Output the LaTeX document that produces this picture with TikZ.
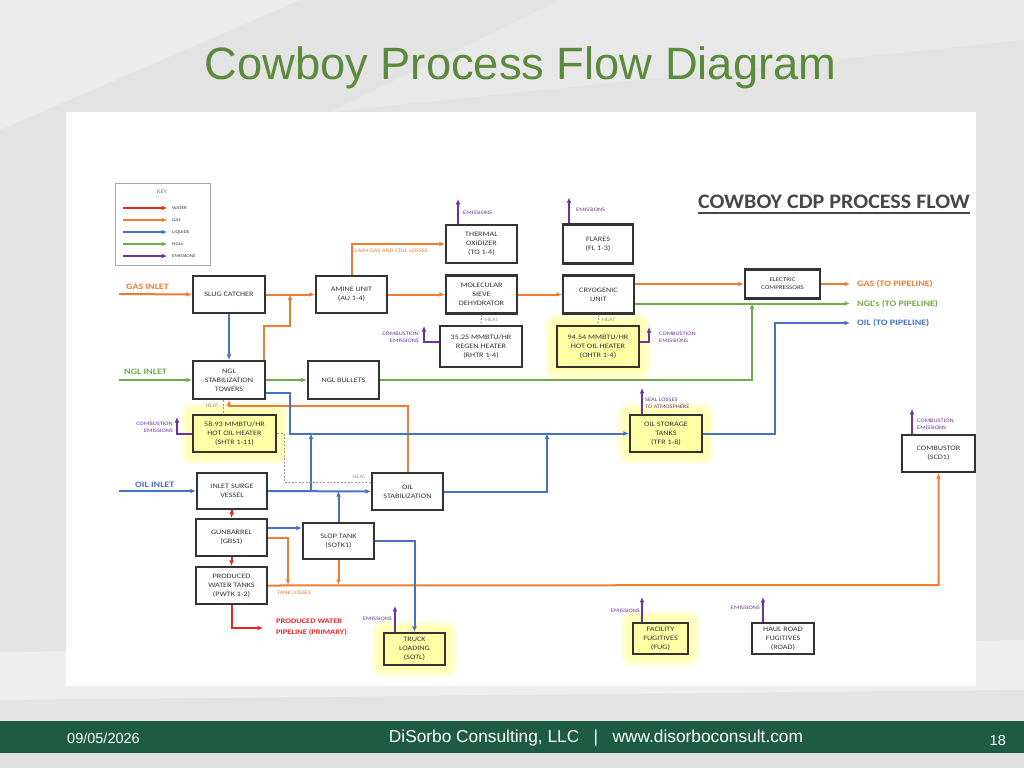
\documentclass[tikz,border=0pt]{standalone}
\usepackage{fontspec}
\setmainfont{Liberation Sans}
\newfontfamily\dg[FakeStretch=1.2]{Carlito}
\newfontfamily\dgt[FakeStretch=1.07]{Carlito}
\usetikzlibrary{arrows.meta}
\definecolor{cwater}{HTML}{E8251F}
\definecolor{cgas}{HTML}{ED7D31}
\definecolor{cliq}{HTML}{4472C4}
\definecolor{cngl}{HTML}{70AD47}
\definecolor{cemi}{HTML}{7030A0}
\definecolor{cbox}{HTML}{333333}
\definecolor{ctxt}{HTML}{333333}
\definecolor{cyel}{HTML}{FFFFA6}
\definecolor{cglow}{HTML}{FFFF80}
\definecolor{cslide}{HTML}{E3E3E3}
\definecolor{cfoot}{HTML}{1E5B45}
\definecolor{ctitle}{HTML}{5B8A3C}
\definecolor{cheat}{HTML}{9A9A9A}
\pgfdeclarelayer{back}
\pgfdeclarelayer{glow}
\pgfsetlayers{back,glow,main}
\begin{document}
\begin{tikzpicture}[x=1pt,y=-1pt,
  box/.style={draw=cbox, line width=2.1pt, fill=white, align=center, inner sep=0pt,
    text=ctxt, font=\dg\fontsize{6.8}{9}\selectfont},
  ybox/.style={box, fill=cyel},
  ln/.style={line width=2pt},
  arr/.style={ln, -{Latex[length=5.5pt,width=4.8pt]}},
  heat/.style={draw=cheat, line width=1pt, dash pattern=on 2pt off 1.5pt},
  small/.style={font=\dg\fontsize{5.3}{7}\selectfont, inner sep=0pt},
  heatlbl/.style={small, text=cheat},
  emilbl/.style={small, text=cemi},
  outlbl/.style={font=\dg\bfseries\fontsize{8.3}{10}\selectfont, inner sep=0pt, anchor=west},
  keylbl/.style={font=\dg\fontsize{4.3}{5}\selectfont, text=ctxt, inner sep=0pt, anchor=west}
]
\useasboundingbox (0,0) rectangle (1024,768);

% ---------- slide background ----------
\begin{pgfonlayer}{back}
\fill[cslide] (0,0) rectangle (1024,768);
\fill[white,opacity=0.3] (0,0) -- (300,0) -- (0,130) -- cycle;
\fill[white,opacity=0.2] (560,0) -- (1024,0) -- (1024,40) -- (330,112) -- cycle;
\fill[white,opacity=0.4] (0,652) -- (1024,640) -- (1024,690) -- (0,700) -- cycle;
\fill[white] (66,112) rectangle (976,686);
\fill[cfoot] (0,721) rectangle (1024,753);
\fill[black!12] (0,753) rectangle (1024,768);
\end{pgfonlayer}

% ---------- slide texts ----------
\node[font=\fontsize{45.3}{50}\selectfont, text=ctitle, anchor=base, inner sep=0pt] (title) at (520.5,79) {Cowboy Process Flow Diagram};
\node[font=\fontsize{14.5}{16}\selectfont, text=white, anchor=base west, inner sep=0pt] (date) at (67,743) {09/05/2026};
\node[font=\fontsize{17.3}{19}\selectfont, text=white, anchor=base, inner sep=0pt] (foot) at (596,742.5) {DiSorbo Consulting, LLC \ \ | \ \ www.disorboconsult.com};
\node[font=\fontsize{14.5}{16}\selectfont, text=white, anchor=base east, inner sep=0pt] (page) at (1006,745) {18};

% ---------- diagram title ----------
\node[font=\dgt\bfseries\fontsize{20.6}{24}\selectfont, text=cbox!90, anchor=base, inner sep=0pt] (dtitle) at (834,208) {COWBOY CDP PROCESS FLOW};
\draw[cbox!90, line width=1.4pt] (dtitle.base west) ++(0,5) coordinate (ul1) -- (dtitle.base east |- ul1);

% ---------- key ----------
\node[draw=black!35, line width=1pt, minimum width=95pt, minimum height=82pt, inner sep=0pt] (key) at (162.5,224) {};
\node[font=\dg\fontsize{5.5}{6}\selectfont, text=black!55, inner sep=0pt] (keyt) at (162,192) {KEY};
\foreach \c/\t/\yy in {cwater/WATER/208, cgas/GAS/220, cliq/LIQUIDS/232, cngl/NGLs/244, cemi/EMISSIONS/256}{
  \draw[line width=1.2pt, -{Latex[length=5pt,width=4.5pt]}, \c] (123,\yy) coordinate (ka\t) -- (167,\yy) coordinate (kb\t);
  \node[keylbl] (kl\t) at (172,\yy) {\t};
}

% ---------- boxes ----------
\node[box, minimum width=72pt, minimum height=37pt] (slug) at (229,294.5) {SLUG CATCHER};
\node[box, minimum width=71pt, minimum height=37pt] (amine) at (351.5,294.5) {AMINE UNIT\\(AU 1-4)};
\node[box, minimum width=71pt, minimum height=38pt] (tox) at (481.5,244) {THERMAL\\OXIDIZER\\(TO 1-4)};
\node[box, minimum width=71pt, minimum height=38pt] (mol) at (481.5,294.5) {MOLECULAR\\SIEVE\\DEHYDRATOR};
\node[box, minimum width=70pt, minimum height=39pt] (flares) at (598,244) {FLARES\\(FL 1-3)};
\node[box, minimum width=71pt, minimum height=38pt] (cryo) at (598.5,294.5) {CRYOGENIC\\UNIT};
\node[box, minimum width=75pt, minimum height=29pt, font=\dg\fontsize{5.8}{8}\selectfont] (comp) at (782.5,284) {ELECTRIC\\COMPRESSORS};
\node[box, minimum width=82pt, minimum height=41pt] (rhtr) at (481,346.5) {35.25 MMBTU/HR\\REGEN HEATER\\(RHTR 1-4)};
\node[ybox, minimum width=82pt, minimum height=41pt] (ohtr) at (598,346.5) {94.54 MMBTU/HR\\HOT OIL HEATER\\(OHTR 1-4)};
\node[box, minimum width=72pt, minimum height=38pt] (towers) at (229,380) {NGL\\STABILIZATION\\TOWERS};
\node[box, minimum width=71pt, minimum height=38pt] (bullets) at (343.5,380) {NGL BULLETS};
\node[ybox, minimum width=83pt, minimum height=37pt] (shtr) at (234.5,433.5) {58.93 MMBTU/HR\\HOT OIL HEATER\\(SHTR 1-11)};
\node[box, minimum width=70pt, minimum height=36pt] (surge) at (232,491) {INLET SURGE\\VESSEL};
\node[box, minimum width=71pt, minimum height=37pt] (oilstab) at (407.5,491.5) {OIL\\STABILIZATION};
\node[ybox, minimum width=72pt, minimum height=37pt] (storage) at (666,433.5) {OIL STORAGE\\TANKS\\(TFR 1-8)};
\node[box, minimum width=73pt, minimum height=37pt] (combustor) at (938.5,453.5) {COMBUSTOR\\(SCD1)};
\node[box, minimum width=71pt, minimum height=37pt] (gunbarrel) at (231.5,537.5) {GUNBARREL\\(GBS1)};
\node[box, minimum width=71pt, minimum height=37pt] (pwtk) at (231.5,585.5) {PRODUCED\\WATER TANKS\\(PWTK 1-2)};
\node[box, minimum width=71pt, minimum height=36pt] (slop) at (338.5,541) {SLOP TANK\\(SOTK1)};
\node[ybox, minimum width=61pt, minimum height=32pt] (truck) at (414.5,649) {TRUCK\\LOADING\\(SOTL)};
\node[ybox, minimum width=55pt, minimum height=31pt] (facility) at (660.5,638.5) {FACILITY\\FUGITIVES\\(FUG)};
\node[box, minimum width=62pt, minimum height=31pt] (haul) at (783,638.5) {HAUL ROAD\\FUGITIVES\\(ROAD)};

% glow behind highlighted boxes
\begin{pgfonlayer}{glow}
\foreach \n in {ohtr,shtr,storage,truck,facility}{
  \foreach \s in {11,8,5}{
    \fill[cglow, opacity=0.25, rounded corners=\s pt] ([xshift=-\s pt,yshift=-\s pt]\n.south west) rectangle ([xshift=\s pt,yshift=\s pt]\n.north east);
  }
}
\end{pgfonlayer}

% ---------- inlet / outlet labels ----------
\node[outlbl, text=cgas] (gasin) at (126,287) {GAS INLET};
\node[outlbl, text=cngl] (nglin) at (124,372) {NGL INLET};
\node[outlbl, text=cliq] (oilin) at (135,485) {OIL INLET};
\coordinate (gasinS) at (119,294);
\coordinate (nglinS) at (119,380);
\coordinate (oilinS) at (119,491);
\coordinate (gasout) at (850,284);
\coordinate (nglout) at (850,303.5);
\coordinate (oilout) at (850,323);
\node[outlbl, text=cgas] (gasoutl) at (857,284.5) {GAS (TO PIPELINE)};
\node[outlbl, text=cngl] (ngloutl) at (857,304) {NGL's (TO PIPELINE)};
\node[outlbl, text=cliq] (oiloutl) at (857,323.5) {OIL (TO PIPELINE)};

% ---------- gas (orange) ----------
\draw[arr, cgas] (gasinS) -- (slug.west);
\draw[arr, cgas] (slug.east) -- (amine.west);
\coordinate (jt) at (290,294.5);
\draw[arr, cgas] ([xshift=-2pt]towers.north east) -- ++(0,-34) -| (jt);
\draw[arr, cgas] (amine.north) |- (tox.west);
\node[small, text=cgas, anchor=west] (flashl) at (352,250.5) {FLASH GAS AND STILL LOSSES};
\draw[arr, cgas] (amine.east) -- (mol.west);
\draw[arr, cgas] (mol.east) -- (cryo.west);
\draw[arr, cgas] (cryo.east |- comp.west) -- (comp.west);
\draw[arr, cgas] (comp.east) -- (gasout);
\draw[arr, cgas] (oilstab.north) -- ++(0,-66) -| (towers.south);
% tank losses
\coordinate (tl1) at (288,585);
\coordinate (tl2) at (338.5,585);
\draw[arr, cgas] (gunbarrel.east) -- (288,537.5) -- (tl1);
\draw[arr, cgas] (slop.south) -- (tl2);
\draw[arr, cgas] (pwtk.east) -- (938.5,585) -- (combustor.south);
\node[small, text=cgas, anchor=west] (tankl) at (277,592.5) {TANK LOSSES};

% ---------- liquids (blue) ----------
\draw[arr, cliq] (slug.south) -- (towers.north);
\draw[arr, cliq] (oilinS) -- (surge.west);
\draw[arr, cliq] (surge.east) -- (oilstab.west);
\coordinate (jb1) at (311,491);
\coordinate (jb2) at (311,433.5);
\draw[arr, cliq] (jb1) -- (jb2);
\draw[arr, cliq] ([yshift=-13pt]towers.east) -- (290,393) -- (290,433.5) -- (storage.west);
\coordinate (jb3) at (547,433.5);
\draw[arr, cliq] (oilstab.east) -| (jb3);
\draw[arr, cliq] (storage.east) -- (775,433.5) -- (775,323) -- (oilout);
\coordinate (jb4) at (338.5,491);
\draw[arr, cliq] (slop.north) -- (jb4);
\draw[arr, cliq] ([yshift=9.5pt]gunbarrel.east) -- ([yshift=13pt]slop.west);
\draw[arr, cliq] (slop.east) -| (truck.north);

% ---------- NGL (green) ----------
\draw[arr, cngl] (nglinS) -- (towers.west);
\draw[arr, cngl] (towers.east) -- (bullets.west);
\coordinate (jg) at (752,303.5);
\draw[arr, cngl] (bullets.east) -| (jg);
\draw[arr, cngl] ([yshift=-9pt]cryo.east) -- (nglout);

% ---------- water (red) ----------
\coordinate (pwout) at (263,628);
\draw[arr, cwater] (surge.south) -- (gunbarrel.north);
\draw[arr, cwater] (gunbarrel.south) -- (pwtk.north);
\draw[arr, cwater] (pwtk.south) |- (pwout);
\node[font=\dg\bfseries\fontsize{7}{11.5}\selectfont, text=cwater, align=left, anchor=west, inner sep=0pt] (pwl) at (276,627) {PRODUCED WATER\\PIPELINE (PRIMARY)};

% ---------- emissions (purple) ----------
\draw[arr, cemi] ([xshift=-23.5pt]tox.north) -- ++(0,-25) coordinate (e1);
\node[emilbl, anchor=west] (e1l) at (463,213) {EMISSIONS};
\draw[arr, cemi] ([xshift=-29pt]flares.north) -- ++(0,-26) coordinate (e2);
\node[emilbl, anchor=west] (e2l) at (576,210) {EMISSIONS};
\draw[arr, cemi] ([yshift=4.5pt]rhtr.west) -- (424,342) -- (424,326) coordinate (e3);
\node[emilbl, anchor=east, align=right] (e3l) at (419,337) {COMBUSTION\\EMISSIONS};
\draw[arr, cemi] ([yshift=4.5pt]ohtr.east) -- (649,342) -- (649,327) coordinate (e4);
\node[emilbl, anchor=west, align=left] (e4l) at (659,337.5) {COMBUSTION\\EMISSIONS};
\draw[arr, cemi] (shtr.west) -- (177,433.5) -- (177,417) coordinate (e5);
\node[emilbl, anchor=east, align=right] (e5l) at (173,427.5) {COMBUSTION\\EMISSIONS};
\draw[arr, cemi] ([xshift=-24pt]storage.north) -- ++(0,-26) coordinate (e6);
\node[emilbl, anchor=west, align=left] (e6l) at (645,403.5) {SEAL LOSSES\\TO ATMOSPHERE};
\draw[arr, cemi] ([xshift=-26.5pt]combustor.north) -- ++(0,-25) coordinate (e7);
\node[emilbl, anchor=west, align=left] (e7l) at (917,424.5) {COMBUSTION\\EMISSIONS};
\draw[arr, cemi] ([xshift=-19.5pt]truck.north) -- ++(0,-26) coordinate (e8);
\node[emilbl, anchor=east] (e8l) at (392,619) {EMISSIONS};
\draw[arr, cemi] ([xshift=-18.5pt]facility.north) -- ++(0,-25) coordinate (e9);
\node[emilbl, anchor=east] (e9l) at (640,611) {EMISSIONS};
\draw[arr, cemi] ([xshift=-20pt]haul.north) -- ++(0,-25) coordinate (e10);
\node[emilbl, anchor=east] (e10l) at (760,608) {EMISSIONS};

% ---------- heat (dashed gray) ----------
\draw[heat] (mol.south) -- (rhtr.north);
\node[heatlbl, anchor=west] (h1) at (485,320) {HEAT};
\draw[heat] (cryo.south) -- (ohtr.north);
\node[heatlbl, anchor=west] (h2) at (602,320) {HEAT};
\draw[heat] ([xshift=-6pt]towers.south) -- ([xshift=-11.5pt]shtr.north);
\node[heatlbl, anchor=east] (h3) at (219,406) {HEAT};
\draw[heat] (shtr.east) -- (284,433.5) -- (284,482) -- ([yshift=9.5pt]oilstab.west);
\node[heatlbl, anchor=east] (h4) at (366,476.5) {HEAT};
\end{tikzpicture}
\end{document}
